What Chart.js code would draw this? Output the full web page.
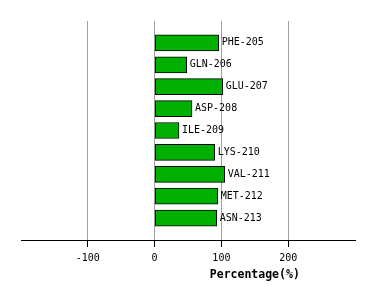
<!DOCTYPE html>
<html lang="en">
<head>
  <meta charset="UTF-8">
  <title>Percentage per residue</title>
  <script src="https://cdn.jsdelivr.net/npm/chart.js"></script>
  <style>
    html, body { margin: 0; padding: 0; background: #fff; }
  </style>
</head>
<body>
  <canvas id="chart" width="374" height="300"></canvas>

  <script>
    // data
    const residues = ['PHE-205', 'GLN-206', 'GLU-207', 'ASP-208', 'ILE-209',
                      'LYS-210', 'VAL-211', 'MET-212', 'ASN-213'];
    const percentages = [96, 48, 102, 56, 36.5, 90, 105, 94.5, 93];
    const xTicks = [-100, 0, 100, 200];
    const xRange = [-200, 300];
    const axisTitle = 'Percentage(%)';

    const mono = '"DejaVu Sans Mono", monospace';

    // blank slot above and below so the bars sit one step in from the edges
    const labels = [''].concat(residues, ['']);
    const values = [null].concat(percentages, [null]);

    const barLabels = {
      id: 'barLabels',
      afterDatasetsDraw(chart) {
        const ctx = chart.ctx;
        const meta = chart.getDatasetMeta(0);
        ctx.save();
        ctx.font = '10px ' + mono;
        ctx.fillStyle = '#000';
        ctx.textAlign = 'left';
        ctx.textBaseline = 'middle';
        meta.data.forEach((bar, i) => {
          if (values[i] == null) return;
          ctx.fillText(labels[i], bar.x + 3, bar.y);
        });
        ctx.restore();
      }
    };

    const xTitle = {
      id: 'xTitle',
      afterDraw(chart) {
        const ctx = chart.ctx;
        const x = chart.scales.x;
        ctx.save();
        ctx.font = 'bold 11.5px ' + mono;
        ctx.fillStyle = '#000';
        ctx.textAlign = 'center';
        ctx.textBaseline = 'middle';
        ctx.fillText(axisTitle, x.getPixelForValue(150), 275);
        ctx.restore();
      }
    };

    new Chart(document.getElementById('chart'), {
      type: 'bar',
      data: {
        labels: labels,
        datasets: [{
          data: values,
          backgroundColor: '#00b000',
          borderColor: '#000',
          borderWidth: 1,
          borderSkipped: false,
          barThickness: 16
        }]
      },
      options: {
        indexAxis: 'y',
        responsive: false,
        animation: false,
        events: [],
        layout: { padding: { left: 21, right: 19, top: 21, bottom: 0 } },
        plugins: { legend: { display: false }, tooltip: { enabled: false } },
        scales: {
          y: { display: false, offset: false },
          x: {
            min: xRange[0],
            max: xRange[1],
            afterFit(scale) { scale.height = 60; },
            border: { display: true, color: '#000', width: 1 },
            grid: {
              color: c => xTicks.includes(c.tick && c.tick.value) ? '#a0a0a0' : 'rgba(0,0,0,0)',
              tickColor: c => xTicks.includes(c.tick && c.tick.value) ? '#000' : 'rgba(0,0,0,0)',
              tickLength: 7,
              lineWidth: 1
            },
            ticks: {
              stepSize: 100,
              autoSkip: false,
              maxRotation: 0,
              padding: 5,
              color: '#000',
              font: { family: mono, size: 10 },
              callback: v => xTicks.includes(v) ? String(v) : ''
            }
          }
        }
      },
      plugins: [barLabels, xTitle]
    });
  </script>
</body>
</html>
